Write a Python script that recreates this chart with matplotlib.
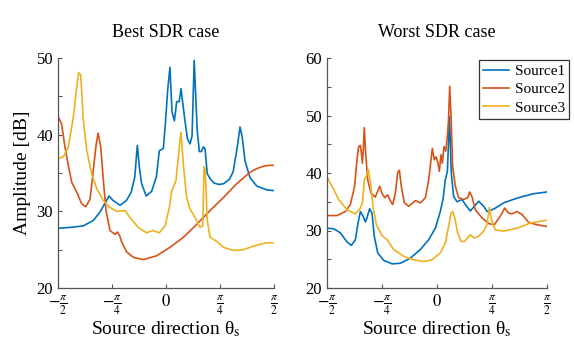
import numpy as np
import matplotlib.pyplot as plt

plt.rcParams['font.family'] = 'Liberation Serif'
plt.rcParams['mathtext.fontset'] = 'stix'

# ---------------- data (angle in degrees, amplitude in dB) ----------------
# Best SDR case
best_s1_deg = [-90, -80, -69, -60.6, -55, -50, -47.5, -44, -38.3, -33, -29, -26, -23.9, -22, -20.3,
               -16.5, -12, -8, -5.6, -2.2, -0.5, 1.5, 3.3, 5, 7, 8.9, 11, 12.5, 15, 17.8, 20,
               21.7, 23.5, 26, 27.8, 29.5, 31, 32.5, 34.4, 37, 40, 44, 48, 53, 56, 58.9, 61.7,
               63.6, 65.8, 70, 75.6, 83.9, 90]
best_s1_db = [27.8, 27.9, 28.1, 28.8, 29.9, 31.3, 32.0, 31.4, 30.8, 31.4, 32.5, 34.5, 38.6, 35.5, 33.6,
              32.0, 32.6, 34.5, 37.9, 38.2, 41.5, 46.0, 48.8, 43.0, 41.8, 44.3, 44.3, 46.0, 42.8, 39.5, 38.8,
              39.8, 49.7, 40.6, 37.8, 37.8, 38.4, 38.2, 34.9, 34.2, 33.7, 33.5, 33.6, 34.2, 35.2, 37.9, 41.0,
              39.6, 36.6, 34.4, 33.3, 32.8, 32.7]

best_s2_deg = [-90, -87, -84.2, -81.4, -78.6, -74.4, -70.3, -66.8, -63.3, -60.6, -58.3, -56.6, -54.4,
               -52.2, -50, -46.7, -42.5, -40.5, -38.5, -36.9, -32.8, -27.2, -18.9, -7.8, 3.3, 14.4,
               25.6, 36.7, 47.8, 58.9, 70, 76, 81.7, 86, 90]
best_s2_db = [42.4, 41.4, 38.4, 36.0, 33.8, 32.5, 31.0, 30.6, 31.6, 35.3, 38.6, 40.2, 38.4,
              34.0, 30.1, 27.5, 27.0, 27.3, 26.8, 26.0, 24.7, 24.0, 23.7, 24.2, 25.3, 26.6,
              28.3, 30.1, 31.8, 33.6, 35.1, 35.6, 35.9, 36.0, 36.0]

best_s3_deg = [-90, -85.6, -81.4, -77.2, -74.4, -72.8, -71.1, -68.9, -66.1, -62, -57.8, -52.2, -46.7,
               -41.1, -34.2, -30, -23.1, -16.1, -11.1, -5.6, -0.8, 2.8, 4.7, 8.3, 10.3, 11.7, 12.5,
               14.4, 17.2, 20, 24.2, 28.3, 30.6, 31.7, 32.6, 34.4, 36.7, 42.2, 47.8, 56.1, 64.4,
               75.6, 83.9, 90]
best_s3_db = [36.9, 37.1, 38.4, 42.3, 46.2, 48.1, 47.8, 41.9, 38.0, 34.9, 33.0, 31.4, 30.5,
              30.0, 30.1, 29.2, 27.9, 27.2, 27.5, 27.2, 28.1, 30.5, 32.6, 34.0, 37.1, 39.3, 40.3,
              36.2, 31.8, 30.3, 29.2, 27.9, 28.1, 35.8, 35.6, 28.8, 26.6, 26.1, 25.3, 24.9, 25.0,
              25.6, 25.9, 25.9]

# Worst SDR case
worst_s1_deg = [-90, -84.5, -79.1, -73.6, -70.1, -66.8, -64.6, -62.7, -60.5, -58.6, -57.3, -55.1, -53.2,
                -51.3, -48.5, -43.6, -36.8, -30, -21.8, -13.6, -6.8, -1.4, 2.7, 4.9, 6.8, 8.5, 10.2,
                11.7, 13.6, 16.4, 20.5, 23.2, 27.3, 30.5, 34.1, 38.2, 41, 47, 54.5, 61, 68.2, 79.1, 90]
worst_s1_db = [30.4, 30.3, 29.6, 28.0, 27.4, 28.4, 31.3, 33.3, 32.5, 31.5, 32.2, 33.8, 33.0,
               29.0, 26.1, 24.8, 24.2, 24.3, 25.2, 26.7, 28.4, 30.4, 33.3, 35.4, 38.8, 40.3, 49.8,
               40.0, 35.9, 35.0, 35.4, 34.5, 33.4, 34.2, 35.1, 34.2, 33.3, 33.8, 34.8, 35.3, 35.8, 36.4, 36.7]

worst_s2_deg = [-90, -81.8, -75, -70.9, -67.4, -65.5, -64.1, -62.7, -61.9, -61.1, -60.3, -59.5, -58.4,
                -56.7, -54, -50.5, -46.9, -45, -42.8, -40.4, -38.7, -36.3, -34.1, -32.2, -30.8, -29.2,
                -26.7, -23.2, -17.7, -13.6, -9.5, -6.8, -4.9, -3.8, -2.2, -0.8, 0.5, 1.9, 3.3, 4.4,
                5.7, 7.1, 8.2, 9.3, 10.4, 11.5, 12.8, 15, 17.7, 21.8, 25.1, 26.7, 28.6, 31.4, 36.8,
                42.3, 46.9, 51.8, 55.4, 58.6, 61.4, 65.5, 69.5, 75, 81.8, 90]
worst_s2_db = [32.6, 32.6, 33.3, 34.5, 37.7, 42.3, 44.6, 44.8, 43.5, 41.7, 44.1, 47.9, 43.5,
               38.8, 36.5, 35.8, 37.7, 36.5, 35.7, 36.2, 35.4, 34.5, 36.5, 40.0, 40.5, 37.7,
               34.8, 34.2, 35.2, 34.8, 35.7, 38.8, 42.3, 44.3, 42.3, 42.8, 42.0, 40.3, 43.2, 41.7,
               44.6, 43.8, 45.8, 48.7, 55.1, 49.9, 41.2, 37.7, 35.7, 35.4, 35.7, 36.7, 35.9, 33.6, 32.2,
               31.2, 31.0, 32.5, 33.9, 33.0, 32.9, 33.3, 32.8, 31.4, 31.0, 30.7]

worst_s3_deg = [-90, -85.9, -80.5, -73.6, -66.8, -62.7, -60.8, -59.5, -57.8, -56.2, -54.5, -52.4, -49.6,
                -45, -40.9, -35.5, -27.3, -19.1, -10.9, -4.1, 2.7, 6.8, 9.5, 11.5, 12.8, 14.5, 16.9,
                19.6, 22.4, 25.1, 27.3, 30, 34.1, 38.2, 40.9, 42.8, 44.5, 47.7, 54.5, 65.5, 76.4, 90]
worst_s3_db = [39.3, 37.7, 35.4, 33.6, 32.9, 33.9, 35.1, 38.8, 39.4, 40.6, 38.3, 34.2, 31.0,
               29.1, 28.4, 26.7, 25.5, 24.9, 24.6, 24.9, 26.1, 27.8, 30.7, 33.0, 33.3, 32.2, 29.6,
               28.1, 28.1, 28.7, 29.3, 28.7, 29.0, 29.9, 31.0, 34.0, 31.9, 30.1, 29.9, 30.4, 31.3, 31.8]

series_names = ['Source1', 'Source2', 'Source3']
colors = ['#0072BD', '#D95319', '#EDB120']

# ---------------- figure ----------------
fig = plt.figure(figsize=(5.74, 3.40), dpi=100)
ax1 = fig.add_axes([58 / 574, 1 - 288 / 340, 216 / 574, 230 / 340])
ax2 = fig.add_axes([327 / 574, 1 - 288 / 340, 220 / 574, 230 / 340])

best = [(best_s1_deg, best_s1_db), (best_s2_deg, best_s2_db), (best_s3_deg, best_s3_db)]
worst = [(worst_s1_deg, worst_s1_db), (worst_s2_deg, worst_s2_db), (worst_s3_deg, worst_s3_db)]

for ax, data, title, ylim in [(ax1, best, 'Best SDR case', (20, 50)),
                              (ax2, worst, 'Worst SDR case', (20, 60))]:
    for (d, v), c, name in zip(data, colors, series_names):
        ax.plot(np.deg2rad(d), v, color=c, lw=1.2, label=name)
    ax.set_xlim(-np.pi / 2, np.pi / 2)
    ax.set_ylim(*ylim)
    ax.set_xticks([-np.pi / 2, -np.pi / 4, 0, np.pi / 4, np.pi / 2])
    ax.set_xticklabels([r'$-\frac{\pi}{2}$', r'$-\frac{\pi}{4}$', r'$0$',
                        r'$\frac{\pi}{4}$', r'$\frac{\pi}{2}$'], fontsize=12)
    ax.set_yticks(np.arange(ylim[0], ylim[1] + 1, 10))
    ax.set_yticks(np.arange(ylim[0], ylim[1] + 1, 5), minor=True)
    ax.tick_params(which='both', direction='in', length=3, width=0.8, color='#555555',
                   labelsize=12, top=False, right=False)
    ax.tick_params(axis='x', pad=4)
    for s in ['top', 'right']:
        ax.spines[s].set_visible(False)
    for s in ['left', 'bottom']:
        ax.spines[s].set_color('#555555')
        ax.spines[s].set_linewidth(0.9)
    ax.set_title(title, fontsize=13, pad=15)
    ax.set_xlabel(r'Source direction θ$_\mathrm{s}$', fontsize=14, labelpad=2)

ax1.set_ylabel('Amplitude [dB]', fontsize=14)

# legend sticks out to the right of the axes, as in the original
leg = ax2.legend(loc='upper left', bbox_to_anchor=(0.69, 0.992), borderaxespad=0,
                 fontsize=11, fancybox=False, framealpha=1, handlelength=1.7,
                 handletextpad=0.35, borderpad=0.3, labelspacing=0.3)
leg.get_frame().set_edgecolor('#333333')
leg.get_frame().set_linewidth(0.9)

fig.savefig('out.png', dpi=100)
